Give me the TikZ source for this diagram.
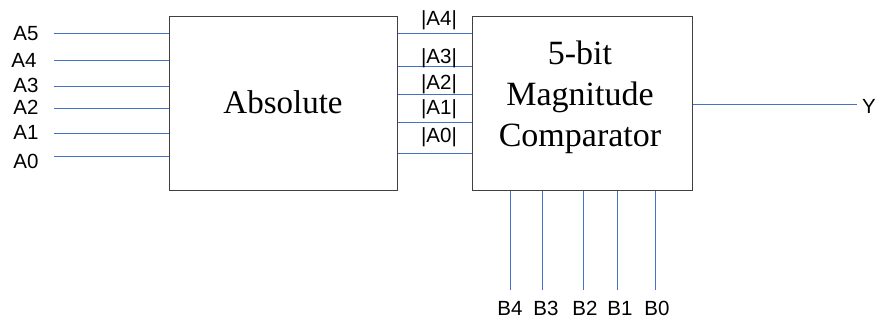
\documentclass[tikz,border=0pt]{standalone}
\usepackage{fontspec}
\setmainfont{Liberation Serif}
\newfontfamily\labelfont{Liberation Sans}
\begin{document}
\begin{tikzpicture}[x=1pt,y=-1pt,
  blockbox/.style={draw=black!75, line width=1.2pt, fill=white, inner sep=0pt, anchor=north west},
  wire/.style={draw={rgb,255:red,68;green,114;blue,196}, line width=0.9pt},
  pinlabel/.style={font=\labelfont\fontsize{20.5}{22}\selectfont, inner sep=0pt},
  blocktext/.style={font=\fontsize{34}{41}\selectfont, align=center}]
\useasboundingbox (0,0) rectangle (877,320);

% blocks
\node[blockbox, minimum width=228pt, minimum height=174pt] (abs) at (169,16) {};
\node[blockbox, minimum width=220pt, minimum height=174pt] (cmp) at (472,16) {};
\node[blocktext, font=\fontsize{33}{40}\selectfont] (abstext) at (283,102) {Absolute};
\node[blocktext] (cmptext) at (580,97) {5-bit\\Magnitude\\Comparator};

% inputs A5..A0
\foreach \n/\y/\ly/\lx in {5/33.3/34/26, 4/60.3/60/24, 3/86/85/26, 2/108.3/107/26, 1/133.3/132/26, 0/156.7/161/26}{
  \node[pinlabel] (la\n) at (\lx,\ly) {A\n};
  \coordinate (ain\n) at (54,\y);
  \draw[wire] (ain\n) -- (ain\n -| abs.west);
}

% absolute values into the comparator
\foreach \n/\y/\ly in {4/33.3/20, 3/66.7/58, 2/94.3/84, 1/122.3/109, 0/153.7/137}{
  \coordinate (m\n) at (abs.east |- 0,\y);
  \draw[wire] (m\n) -- (m\n -| cmp.west);
  \node[pinlabel] (lm\n) at (439,\ly) {|A\n|};
}

% inputs B4..B0
\foreach \n/\x in {4/510, 3/542, 2/583, 1/617, 0/655}{
  \coordinate (bin\n) at (\x,290);
  \draw[wire] (bin\n) -- (bin\n |- cmp.south);
}
\foreach \n/\x in {4/510, 3/546, 2/585, 1/620, 0/657}{
  \node[pinlabel] (lb\n) at (\x,308) {B\n};
}

% output
\coordinate (yout) at (cmp.east |- 0,104.3);
\coordinate (yend) at (857,104.3);
\draw[wire] (yout) -- (yend);
\node[pinlabel, anchor=west] (ly) at (862,106) {Y};
\end{tikzpicture}
\end{document}
